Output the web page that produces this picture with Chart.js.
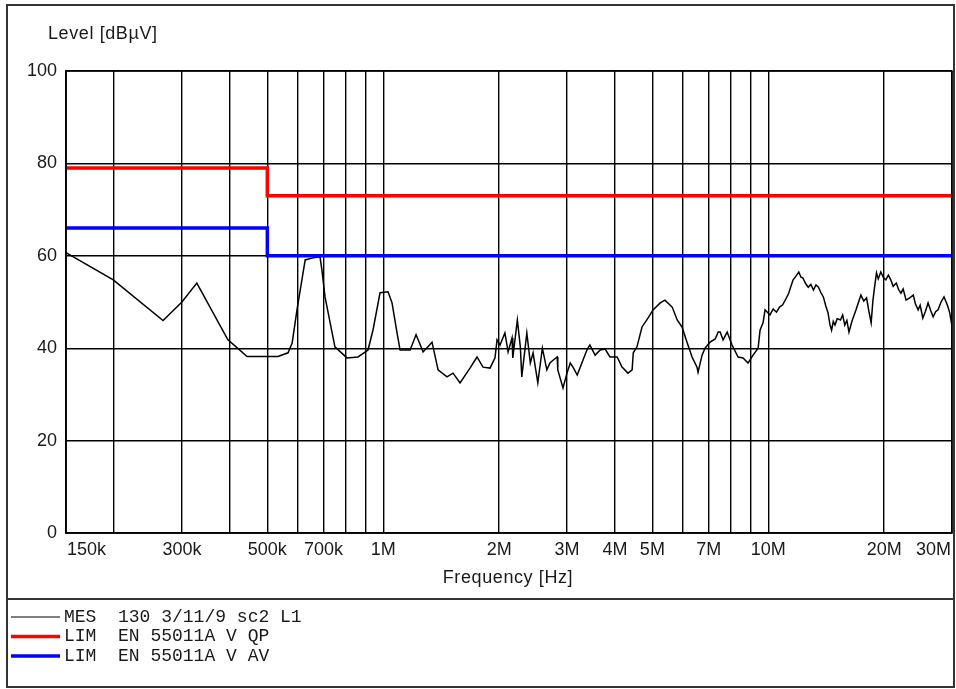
<!DOCTYPE html>
<html>
<head>
<meta charset="utf-8">
<script src="https://cdn.jsdelivr.net/npm/chart.js@4.4.1/dist/chart.umd.min.js"></script>
<style>
  html, body { margin: 0; padding: 0; background: #fff; }
  #wrap { width: 956px; height: 689px; position: relative; }
</style>
</head>
<body>
<div id="wrap"><canvas id="emi" width="956" height="689"></canvas></div>
<script>
// --- measured trace (frequency in kHz, level in dBµV) ---
const traceKHz = [
  150, 199, 268, 300, 328, 395, 412, 443, 533, 566, 580, 597, 627, 653, 685, 693, 706, 749, 805, 860,
  913, 941, 981, 1029, 1054, 1086, 1106, 1174, 1217, 1269, 1339, 1388, 1464, 1518, 1583, 1680, 1752, 1816, 1894, 1951,
  1975, 2010, 2070, 2110, 2160, 2170, 2230, 2270, 2290, 2360, 2410, 2450, 2520, 2590, 2660, 2710, 2760, 2830, 2840, 2930,
  3000, 3060, 3110, 3190, 3280, 3380, 3440, 3550, 3660, 3770, 3880, 4050, 4170, 4320, 4430, 4460, 4560, 4700, 4870, 5020,
  5240, 5390, 5630, 5800, 5970, 6150, 6340, 6530, 6570, 6730, 6850, 7060, 7280, 7410, 7500, 7630, 7820, 8050, 8350, 8600,
  8860, 9130, 9410, 9520, 9690, 9810,
  10100, 10300, 10500, 10700, 10900, 11100, 11300, 11450, 11600, 11800, 12000, 12150, 12300, 12500, 12700, 12900, 13100, 13300, 13500, 13700,
  13900, 14100, 14300, 14450, 14600, 14750, 14900, 15100, 15400, 15600, 15800, 16000, 16200, 16500, 16900, 17100, 17400, 17700, 18000, 18250,
  18500, 18700, 18900, 19100, 19300, 19600, 19900, 20200, 20500, 20800, 21100, 21500, 21800, 22100, 22400, 22800, 23300, 23800, 24100, 24500,
  24800, 25200, 25600, 26000, 26400, 26800, 27200, 27600, 28100, 28600, 29000, 29300, 29600, 29900, 30000
];
const traceLevel = [
  60.7, 54.8, 46.0, 50.0, 54.1, 41.8, 40.5, 38.2, 38.2, 39.0, 41.1, 48.3, 59.1, 59.5, 59.8, 56.9, 51.1, 40.3, 37.9, 38.1,
  39.6, 44.0, 52.0, 52.2, 49.8, 43.3, 39.6, 39.6, 42.9, 39.2, 41.3, 35.3, 33.8, 34.6, 32.5, 35.7, 38.1, 35.9, 35.7, 37.9,
  41.8, 40.7, 43.3, 39.2, 42.2, 37.9, 46.1, 40.3, 33.8, 43.3, 36.8, 39.0, 32.5, 40.0, 35.3, 36.8, 37.4, 38.1, 35.3, 31.4,
  34.6, 36.8, 35.9, 34.2, 36.8, 39.6, 40.7, 38.5, 39.6, 39.8, 38.1, 38.1, 35.9, 34.6, 35.3, 39.0, 40.3, 44.6, 46.5, 48.3,
  49.8, 50.4, 48.9, 46.1, 44.6, 41.3, 38.1, 35.9, 34.8, 38.5, 40.0, 41.3, 42.0, 43.5, 43.5, 41.8, 43.5, 40.7, 38.1, 37.9,
  36.8, 38.5, 40.0, 43.9, 45.5, 48.3,
  47.2, 48.5, 47.8, 48.9, 49.4, 50.6, 51.9, 53.4, 54.8, 55.6, 56.5, 55.4, 55.2, 54.0, 53.2, 53.8, 52.6, 53.7, 53.2, 52.0,
  51.1, 49.2, 47.6, 45.2, 43.9, 45.8, 45.0, 46.4, 46.1, 47.2, 45.0, 46.0, 43.5, 45.9, 48.3, 49.6, 51.5, 50.2, 50.9, 48.0,
  45.5, 50.4, 53.5, 56.3, 55.0, 56.5, 55.3, 54.8, 55.8, 54.8, 53.4, 54.1, 52.7, 51.9, 52.8, 50.4, 50.9, 51.5, 49.6, 48.3,
  49.3, 46.5, 48.0, 49.8, 48.2, 46.8, 47.9, 48.3, 50.0, 51.1, 49.9, 48.9, 47.6, 45.5, 46.5
];

// --- EN 55011A limit lines ---
const limitKHz = [150, 500, 500, 30000];
const limitQP = [79, 79, 73, 73];
const limitAV = [66, 66, 60, 60];

// --- axes ---
const gridKHz = [150, 200, 300, 400, 500, 600, 700, 800, 900, 1000, 2000, 3000, 4000, 5000, 6000, 7000, 8000, 9000, 10000, 20000, 30000];
const xLabelKHz = [150, 300, 500, 700, 1000, 2000, 3000, 4000, 5000, 7000, 10000, 20000, 30000];
const xLabelText = ['150k', '300k', '500k', '700k', '1M', '2M', '3M', '4M', '5M', '7M', '10M', '20M', '30M'];
const yTicks = [0, 20, 40, 60, 80, 100];

const legendRows = [
  { text: 'MES  130 3/11/9 sc2 L1', color: '#000000', width: 1.2 },
  { text: 'LIM  EN 55011A V QP', color: '#ff0000', width: 3.5 },
  { text: 'LIM  EN 55011A V AV', color: '#0000ff', width: 3.5 }
];

const SANS = '"Liberation Sans", Arial, sans-serif';
const MONO = '"Liberation Mono", "Courier New", monospace';

function pts(xs, ys) {
  return xs.map((k, i) => ({ x: k * 1000, y: ys[i] }));
}

// frame, titles, x labels and legend
const decor = {
  id: 'decor',
  afterDraw(chart) {
    const ctx = chart.ctx;
    const area = chart.chartArea;
    const xs = chart.scales.x;
    ctx.save();

    // plot box
    ctx.strokeStyle = '#000';
    ctx.lineWidth = 1.5;
    ctx.strokeRect(area.left, area.top, area.right - area.left, area.bottom - area.top);

    // outer frame + separator
    ctx.strokeStyle = '#333';
    ctx.lineWidth = 2;
    ctx.strokeRect(7, 5, 947, 682);
    ctx.beginPath();
    ctx.moveTo(7, 599);
    ctx.lineTo(954, 599);
    ctx.stroke();

    ctx.fillStyle = '#1a1a1a';
    ctx.font = '18px ' + SANS;
    ctx.textBaseline = 'middle';
    ctx.textAlign = 'left';
    ctx.letterSpacing = '0.6px';
    ctx.fillText('Level [dBµV]', 48, 34);
    ctx.textAlign = 'center';
    ctx.fillText('Frequency [Hz]', 508, 578);
    ctx.letterSpacing = '0px';

    // x tick labels, kept inside the plot width at both ends
    xLabelKHz.forEach((k, i) => {
      const label = xLabelText[i];
      const w = ctx.measureText(label).width;
      let cx = xs.getPixelForValue(k * 1000);
      cx = Math.max(area.left + 1 + w / 2, Math.min(area.right - 1 - w / 2, cx));
      ctx.fillText(label, cx, 550);
    });

    // legend block
    ctx.font = '18px ' + MONO;
    ctx.textAlign = 'left';
    legendRows.forEach((row, i) => {
      const y = 617 + i * 19.5;
      ctx.strokeStyle = row.color;
      ctx.lineWidth = row.width;
      ctx.beginPath();
      ctx.moveTo(11, y);
      ctx.lineTo(60, y);
      ctx.stroke();
      ctx.fillStyle = '#1a1a1a';
      ctx.fillText(row.text, 64, y);
    });
    ctx.restore();
  }
};

new Chart(document.getElementById('emi'), {
  type: 'line',
  data: {
    datasets: [
      {
        label: 'LIM EN 55011A V QP',
        data: pts(limitKHz, limitQP),
        borderColor: '#ff0000',
        borderWidth: 3.5,
        pointRadius: 0,
        order: 0
      },
      {
        label: 'LIM EN 55011A V AV',
        data: pts(limitKHz, limitAV),
        borderColor: '#0000ff',
        borderWidth: 3.5,
        pointRadius: 0,
        order: 0
      },
      {
        label: 'MES 130 3/11/9 sc2 L1',
        data: pts(traceKHz, traceLevel),
        borderColor: '#000000',
        borderWidth: 1.5,
        pointRadius: 0,
        tension: 0,
        order: 1
      }
    ]
  },
  options: {
    responsive: false,
    animation: false,
    events: [],
    layout: { padding: { left: 0, top: 71, right: 4, bottom: 0 } },
    plugins: {
      legend: { display: false },
      tooltip: { enabled: false }
    },
    scales: {
      x: {
        type: 'logarithmic',
        min: 150000,
        max: 30000000,
        afterBuildTicks: s => { s.ticks = gridKHz.map(k => ({ value: k * 1000 })); },
        afterFit: s => { s.height = 156; },
        grid: { color: '#000', lineWidth: 1.4, drawTicks: false },
        border: { color: '#000', width: 1.5 },
        ticks: { display: false }
      },
      y: {
        type: 'linear',
        min: 0,
        max: 100,
        afterBuildTicks: s => { s.ticks = yTicks.map(v => ({ value: v })); },
        afterFit: s => { s.width = 66; },
        grid: { color: '#000', lineWidth: 1.4, drawTicks: false },
        border: { color: '#000', width: 1.5 },
        ticks: {
          color: '#1a1a1a',
          padding: 9,
          font: { family: SANS, size: 18 }
        }
      }
    }
  },
  plugins: [decor]
});
</script>
</body>
</html>
